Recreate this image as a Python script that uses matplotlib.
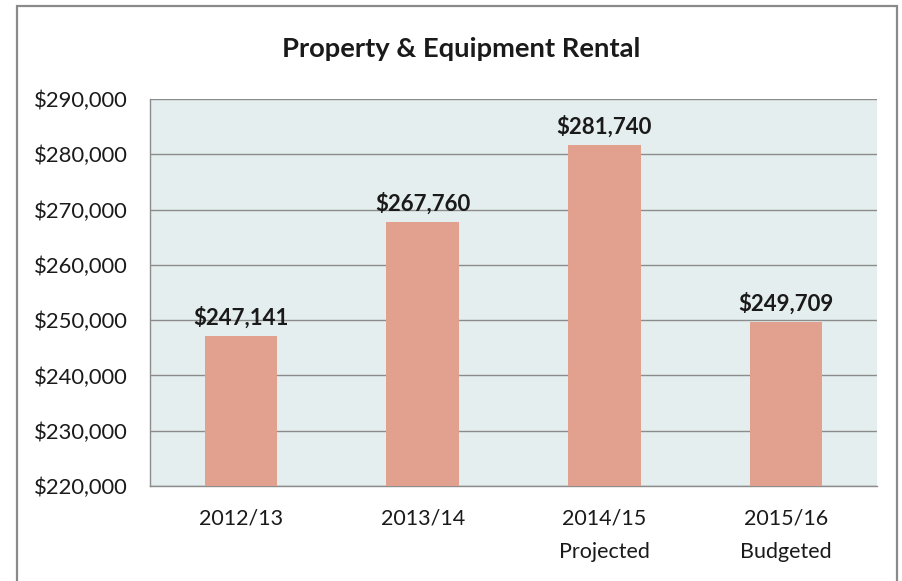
import matplotlib.pyplot as plt
from matplotlib.patches import Rectangle
from matplotlib.ticker import FuncFormatter, MultipleLocator

# data
categories = ["2012/13", "2013/14", "2014/15\nProjected", "2015/16\nBudgeted"]
values = [247141, 267760, 281740, 249709]
y_min, y_max, y_step = 220000, 290000, 10000

bar_color = "#E2A08F"
plot_bg = "#E5EEEE"
grid_color = "#8C8C8C"
text_color = "#1A1A1A"
font = ["Lato", "DejaVu Sans"]

fig = plt.figure(figsize=(9.03, 5.81), dpi=100)
W, H = 903, 581

# outer chart border
fig.patches.append(Rectangle((17 / W, -0.1), (897 - 17) / W, (H - 6) / H + 0.1,
                             transform=fig.transFigure, fill=False,
                             edgecolor="#8A8A8A", linewidth=1.6))

ax = fig.add_axes([150 / W, (H - 486) / H, 727 / W, 387 / H])
ax.set_facecolor(plot_bg)

x = range(len(categories))
ax.bar(x, values, width=0.4, color=bar_color, zorder=3)

ax.set_xlim(-0.5, len(categories) - 0.5)
ax.set_ylim(y_min, y_max)
ax.yaxis.set_major_locator(MultipleLocator(y_step))
ax.yaxis.set_major_formatter(FuncFormatter(lambda v, p: f"${v:,.0f}"))
ax.grid(axis="y", color=grid_color, linewidth=1.0, zorder=1)
ax.set_axisbelow(True)

ax.set_xticks(list(x))
ax.set_xticklabels(categories, fontsize=15.5, family=font, color=text_color,
                   linespacing=1.85)
for lbl in ax.get_yticklabels():
    lbl.set_fontsize(15.8)
    lbl.set_family(font)
    lbl.set_color(text_color)
ax.tick_params(length=0)
ax.tick_params(axis="x", pad=16)
ax.tick_params(axis="y", pad=16)

for s in ["top", "right"]:
    ax.spines[s].set_visible(False)
for s in ["left", "bottom"]:
    ax.spines[s].set_color(grid_color)
    ax.spines[s].set_linewidth(1.0)

for xi, v in zip(x, values):
    ax.annotate(f"${v:,}", (xi, v), xytext=(0, 5), textcoords="offset points",
                ha="center", va="bottom", fontsize=16, fontweight="bold",
                family=font, color=text_color)

fig.text(461 / W, 1 - 49 / H, "Property & Equipment Rental", ha="center",
         va="center", fontsize=19.7, fontweight="bold", family=font,
         color=text_color)

fig.savefig("out.png", dpi=100)
